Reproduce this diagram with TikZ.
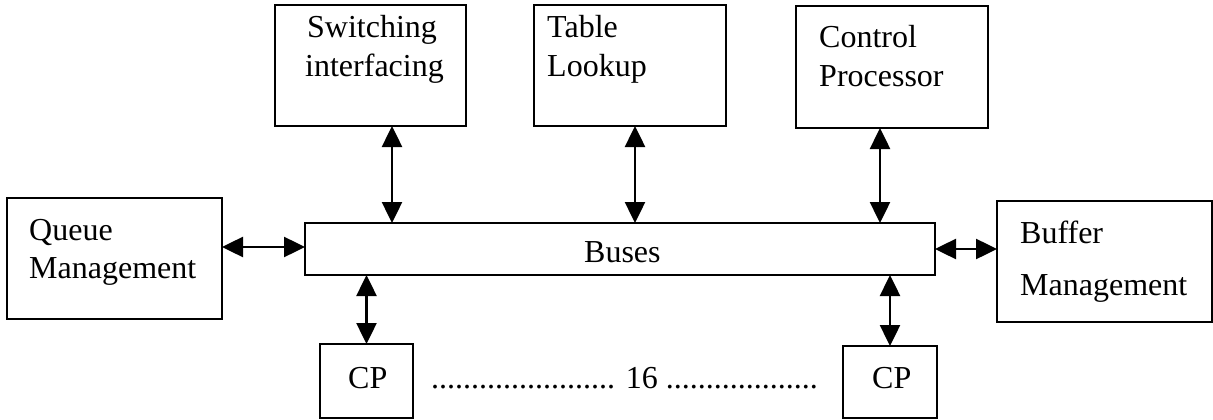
\documentclass[tikz,border=0pt]{standalone}
\usepackage{fontspec}
\setmainfont{Liberation Serif}
\usetikzlibrary{arrows.meta}
\begin{document}
\begin{tikzpicture}[x=1pt,y=-1pt,
  box/.style={draw, line width=2.3pt, inner sep=0pt, outer sep=0pt,
              font=\fontsize{32}{38}\selectfont},
  lbl/.style={anchor=base west, inner sep=0pt, font=\fontsize{32}{38}\selectfont},
  link/.style={line width=2.5pt,
               {Triangle[length=21pt,width=20pt]}-{Triangle[length=21pt,width=20pt]}}]
\useasboundingbox[fill=white] (0,0) rectangle (1213,420);

% functional blocks
\node[box, minimum width=191pt, minimum height=121pt] (sw) at (370.5,65.5) {};
\node[box, minimum width=192pt, minimum height=121pt] (tl) at (630,65.5) {};
\node[box, minimum width=192pt, minimum height=122pt] (cpu) at (892,67) {};
\node[box, minimum width=215pt, minimum height=121pt] (qm) at (114.5,258.5) {};
\node[box, minimum width=630pt, minimum height=52pt] (bus) at (620,249) {};
\node[box, minimum width=215pt, minimum height=121pt] (bm) at (1104.5,261.5) {};
\node[box, minimum width=93pt, minimum height=74pt] (cp1) at (366.5,381) {};
\node[box, minimum width=94pt, minimum height=72pt] (cp2) at (890,382) {};

% block labels
\node[lbl] (sw1) at (307,38) {Switching};
\node[lbl] (sw2) at (305,77) {interfacing};
\node[lbl] (tl1) at (547,38) {Table};
\node[lbl] (tl2) at (547,77) {Lookup};
\node[lbl] (cpu1) at (819,48) {Control};
\node[lbl] (cpu2) at (819,86) {Processor};
\node[lbl] (qm1) at (29,240) {Queue};
\node[lbl] (qm2) at (29,278) {Management};
\node[lbl] (bust) at (584,262) {Buses};
\node[lbl] (bm1) at (1020,243) {Buffer};
\node[lbl] (bm2) at (1020,295) {Management};
\node[lbl] (cp1t) at (348,388) {CP};
\node[lbl] (cp2t) at (872,388) {CP};
\node[lbl] (dots) at (431,388) {....................... 16 ...................};

% attachment points on the bus
\coordinate (xsw) at (392,0);
\coordinate (xtl) at (635,0);
\coordinate (xcpu) at (880,0);
\coordinate (yqm) at (0,247);
\coordinate (ybm) at (0,249);

% connections
\draw[link] (sw.south -| xsw) -- (bus.north -| xsw);
\draw[link] (tl.south -| xtl) -- (bus.north -| xtl);
\draw[link] (cpu.south -| xcpu) -- (bus.north -| xcpu);
\draw[link] (qm.east |- yqm) -- (bus.west |- yqm);
\draw[link] (bus.east |- ybm) -- (bm.west |- ybm);
\draw[link] (bus.south -| cp1.north) -- (cp1.north);
\draw[link] (bus.south -| cp2.north) -- (cp2.north);
\end{tikzpicture}
\end{document}
